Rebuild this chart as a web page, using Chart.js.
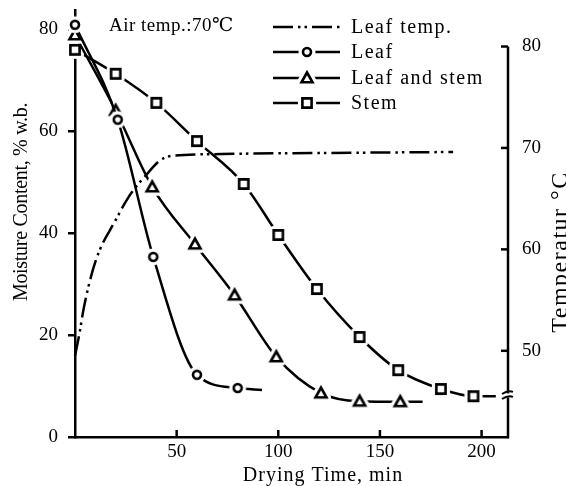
<!DOCTYPE html>
<html>
<head>
<meta charset="utf-8">
<script src="https://cdn.jsdelivr.net/npm/chart.js@4/dist/chart.umd.min.js"></script>
<style>
  html, body { margin: 0; padding: 0; background: #fff; overflow: hidden; }
  canvas { display: block; }
</style>
</head>
<body>
<canvas id="graphique" width="566" height="486"></canvas>
<script>
// Valeurs (temps en min)
const leafTempTime  = [0, 2, 4.4, 8.4, 12.3, 19.2, 26.5, 34, 43.7, 53.6, 72, 120, 186];
const leafTempValue = [49.5, 51.5, 54.3, 57.7, 60, 62.6, 65.2, 67.1, 69, 69.3, 69.4, 69.5, 69.6];

const leafTime     = [0, 21, 38.5, 60, 80, 92];
const leafMoisture = [80.8, 62.2, 35.3, 12.2, 9.6, 9.2];

const leafStemTime     = [0, 20, 38, 59, 78.5, 99, 121, 140, 160, 171];
const leafStemMoisture = [78.8, 64, 49, 37.8, 27.8, 15.7, 8.6, 7, 6.9, 6.9];

const stemTime     = [0, 20, 40, 60, 83, 100, 119, 140, 159, 180, 196, 207];
const stemMoisture = [75.9, 71.2, 65.5, 58, 49.6, 39.6, 29, 19.6, 13.1, 9.4, 8, 8];

const xTicks = [50, 100, 150, 200];
const yTicks = [0, 20, 40, 60, 80];
const tempTicks = [50, 60, 70, 80];

const seriesLabels = ['Leaf temp.', 'Leaf', 'Leaf and stem', 'Stem'];
const airTempText = 'Air temp.:70℃';
const xTitle = 'Drying Time, min';
const yTitle = 'Moisture Content, % w.b.';
const tempTitle = 'Temperatur °C';

const serif = "'Liberation Serif', 'DejaVu Serif', serif";

// petits marqueurs creux avec un halo blanc (la ligne s'arrête avant le symbole)
function makeMarker(shape) {
    const c = document.createElement('canvas');
    c.width = 22; c.height = 22;
    const g = c.getContext('2d');
    g.translate(11, 11);
    const path = () => {
        g.beginPath();
        if (shape === 'circle') g.arc(0, 0, 4, 0, Math.PI * 2);
        else if (shape === 'triangle') { g.moveTo(0, -5.5); g.lineTo(5.5, 4.3); g.lineTo(-5.5, 4.3); g.closePath(); }
        else g.rect(-4.6, -4.6, 9.2, 9.2);
    };
    path(); g.strokeStyle = '#fff'; g.lineWidth = 9; g.lineJoin = 'round'; g.stroke();
    path(); g.fillStyle = '#fff'; g.fill();
    g.strokeStyle = '#000'; g.lineWidth = 2.6; g.lineJoin = 'miter'; g.stroke();
    return c;
}
const markers = { circle: makeMarker('circle'), triangle: makeMarker('triangle'), square: makeMarker('square') };

const toPoints = (xs, ys) => xs.map((x, i) => ({ x: x, y: ys[i] }));
const lastHidden = n => ctx => (ctx.dataIndex === n - 1 ? 0 : 5);

const datasets = [
    {
        label: seriesLabels[0],
        data: toPoints(leafTempTime, leafTempValue),
        yAxisID: 'yT',
        borderDash: [20, 5, 2.5, 4, 2.5, 5],
        pointRadius: 0
    },
    {
        label: seriesLabels[1],
        data: toPoints(leafTime, leafMoisture),
        yAxisID: 'y',
        marker: markers.circle,
        pointStyle: markers.circle,
        pointRadius: lastHidden(leafTime.length)
    },
    {
        label: seriesLabels[2],
        data: toPoints(leafStemTime, leafStemMoisture),
        yAxisID: 'y',
        marker: markers.triangle,
        pointStyle: markers.triangle,
        pointRadius: lastHidden(leafStemTime.length)
    },
    {
        label: seriesLabels[3],
        data: toPoints(stemTime, stemMoisture),
        yAxisID: 'y',
        marker: markers.square,
        pointStyle: markers.square,
        pointRadius: lastHidden(stemTime.length)
    }
].map(d => Object.assign({
    borderColor: '#000',
    borderWidth: 2.5,
    fill: false,
    cubicInterpolationMode: 'monotone',
    clip: false
}, d));

// légende, titres, graduations internes et axe de droite
const decor = {
    id: 'decor',
    afterDraw(chart) {
        const ctx = chart.ctx;
        const x = chart.scales.x, yT = chart.scales.yT, area = chart.chartArea;
        ctx.save();
        ctx.strokeStyle = '#000';
        ctx.fillStyle = '#000';
        ctx.lineWidth = 2.5;

        // graduations de l'axe x vers l'intérieur
        xTicks.forEach(v => {
            const px = x.getPixelForValue(v);
            ctx.beginPath(); ctx.moveTo(px, area.bottom); ctx.lineTo(px, area.bottom - 7); ctx.stroke();
        });

        // axe de température (à droite)
        const top = yT.getPixelForValue(80);
        ctx.beginPath(); ctx.moveTo(area.right, top); ctx.lineTo(area.right, area.bottom + 1.2); ctx.stroke();
        tempTicks.forEach(v => {
            const py = yT.getPixelForValue(v);
            ctx.beginPath(); ctx.moveTo(area.right, py); ctx.lineTo(area.right - 7, py); ctx.stroke();
        });
        // coupure de l'axe
        const pb = yT.getPixelForValue(45.6);
        ctx.fillStyle = '#fff';
        ctx.fillRect(area.right - 3, pb - 2, 6, 4);
        ctx.fillStyle = '#000';
        ctx.lineWidth = 1.8;
        [-2.5, 2.5].forEach(d => {
            ctx.beginPath();
            ctx.moveTo(area.right - 6, pb + d + 1);
            ctx.quadraticCurveTo(area.right, pb + d - 3, area.right + 5, pb + d - 1);
            ctx.stroke();
        });

        // légende
        const rows = [27, 52, 78, 103];
        chart.data.datasets.forEach((ds, i) => {
            const y = rows[i];
            ctx.lineWidth = 2.5;
            ctx.setLineDash(ds.borderDash || []);
            ctx.beginPath(); ctx.moveTo(273, y); ctx.lineTo(340, y); ctx.stroke();
            ctx.setLineDash([]);
            if (ds.marker) ctx.drawImage(ds.marker, 307 - 11, y - 11);
            ctx.font = '20px ' + serif;
            ctx.letterSpacing = '1.5px';
            ctx.textBaseline = 'middle';
            ctx.textAlign = 'left';
            ctx.fillText(ds.label, 351, y + 1);
        });

        // texte "Air temp."
        ctx.font = '19px ' + serif;
        ctx.letterSpacing = '0.5px';
        ctx.textBaseline = 'alphabetic';
        ctx.fillText(airTempText, 109, 31);

        // titre de l'axe x
        ctx.font = '20px ' + serif;
        ctx.letterSpacing = '1px';
        ctx.textAlign = 'center';
        ctx.fillText(xTitle, 323, 481);

        // titre de l'axe de gauche
        ctx.save();
        ctx.translate(27, 202);
        ctx.rotate(-Math.PI / 2);
        ctx.font = '20px ' + serif;
        ctx.letterSpacing = '-0.3px';
        ctx.fillText(yTitle, 0, 0);
        ctx.restore();

        // titre de l'axe de droite
        ctx.save();
        ctx.translate(567, 252);
        ctx.rotate(-Math.PI / 2);
        ctx.font = '24px ' + serif;
        ctx.letterSpacing = '1.5px';
        ctx.fillText(tempTitle, 0, 0);
        ctx.restore();

        ctx.restore();
    }
};

const tickFont = { family: serif, size: 19 };
// taille fixe des axes, sans marge automatique pour les étiquettes
const fixSize = (w, h) => s => {
    if (w) s.width = w;
    if (h) s.height = h;
    s.paddingTop = 0; s.paddingBottom = 0; s.paddingLeft = 0; s.paddingRight = 0;
};

new Chart(document.getElementById('graphique').getContext('2d'), {
    type: 'line',
    data: { datasets: datasets },
    plugins: [decor],
    options: {
        responsive: false,
        animation: false,
        devicePixelRatio: 1,
        events: [],
        layout: { autoPadding: false, padding: { top: 10, left: 0, right: 0, bottom: 0 } },
        plugins: { legend: { display: false }, tooltip: { enabled: false } },
        scales: {
            x: {
                type: 'linear',
                min: 0,
                max: 213,
                afterBuildTicks: s => { s.ticks = xTicks.map(v => ({ value: v })); },
                afterFit: fixSize(0, 49),
                grid: { display: false },
                border: { display: true, color: '#000', width: 2.5 },
                ticks: { color: '#000', font: tickFont, padding: -4, maxRotation: 0 }
            },
            y: {
                position: 'left',
                min: 0,
                max: 83.7,
                afterBuildTicks: s => { s.ticks = yTicks.map(v => ({ value: v })); },
                afterFit: fixSize(75, 0),
                grid: { display: true, drawOnChartArea: false, drawTicks: true, tickLength: 7, color: '#000', lineWidth: 2.5 },
                border: { display: true, color: '#000', width: 2.5 },
                ticks: { color: '#000', font: tickFont, padding: 10 }
            },
            yT: {
                position: 'right',
                min: 41.5,
                max: 83.6,
                afterBuildTicks: s => { s.ticks = tempTicks.map(v => ({ value: v })); },
                afterFit: fixSize(58, 0),
                grid: { display: false },
                border: { display: false },
                ticks: { color: '#000', font: tickFont, padding: 6 }
            }
        }
    }
});
</script>
</body>
</html>
